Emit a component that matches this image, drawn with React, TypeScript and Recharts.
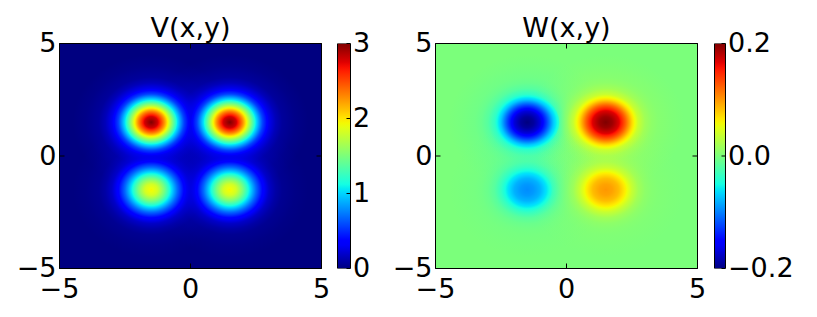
import React from 'react';
import { ScatterChart, Scatter, XAxis, YAxis, CartesianGrid, BarChart, Bar, Label } from 'recharts';

// ---------------- data ----------------
const AXIS_TICKS = [-5, 0, 5];
const AXIS_DOMAIN: [number, number] = [-5, 5];
const BLOB_X = [-1.5, 1.5, -1.5, 1.5];
const BLOB_Y = [1.5, 1.5, -1.5, -1.5];
const V_PEAKS = [3.0, 3.0, 1.95, 1.95];
const W_PEAKS = [-0.2, 0.2, -0.095, 0.1];
const V_BACKGROUND = 0;
const W_BACKGROUND = 0;
// radial fall-off of a blob (fraction of peak) at these distances
const PROFILE_R = [0, 0.25, 0.5, 0.75, 1, 1.25, 1.5, 1.75, 2, 2.5, 3];
const V_PROFILE = [1, 0.93, 0.76, 0.55, 0.35, 0.19, 0.095, 0.05, 0.024, 0.008, 0];
const W_PROFILE = [1, 0.95, 0.84, 0.62, 0.36, 0.18, 0.09, 0.047, 0.026, 0.01, 0];
const V_RANGE: [number, number] = [0, 3];
const W_RANGE: [number, number] = [-0.2, 0.2];
const V_CB_TICKS = [0, 1, 2, 3];
const W_CB_TICKS = [-0.2, 0, 0.2];
const V_TITLE = 'V(x,y)';
const W_TITLE = 'W(x,y)';

// ---------------- style / layout ----------------
const FONT = '"DejaVu Sans", sans-serif';
const FS = 27;
const PLOT_W = 262;
const PLOT_H = 225;
const TICK_LEN = 5;

const JET_RED: [number, number][] = [[0, 0], [0.35, 0], [0.66, 1], [0.89, 1], [1, 0.5]];
const JET_GREEN: [number, number][] = [[0, 0], [0.125, 0], [0.375, 1], [0.64, 1], [0.91, 0], [1, 0]];
const JET_BLUE: [number, number][] = [[0, 0.5], [0.11, 1], [0.34, 1], [0.65, 0], [1, 0]];

function seg(pts: [number, number][], t: number) {
  const x = Math.max(0, Math.min(1, t));
  for (let i = 0; i < pts.length - 1; i++) {
    const [x0, y0] = pts[i];
    const [x1, y1] = pts[i + 1];
    if (x <= x1) return y0 + ((y1 - y0) * (x - x0)) / (x1 - x0 || 1);
  }
  return pts[pts.length - 1][1];
}
function jet(t: number) {
  const c = (v: number) => Math.round(Math.max(0, Math.min(1, v)) * 255);
  return `rgb(${c(seg(JET_RED, t))},${c(seg(JET_GREEN, t))},${c(seg(JET_BLUE, t))})`;
}
function profileAt(profile: number[], r: number) {
  if (r <= PROFILE_R[0]) return profile[0];
  for (let i = 0; i < PROFILE_R.length - 1; i++) {
    if (r <= PROFILE_R[i + 1]) {
      const t = (r - PROFILE_R[i]) / (PROFILE_R[i + 1] - PROFILE_R[i]);
      return profile[i] + (profile[i + 1] - profile[i]) * t;
    }
  }
  return profile[profile.length - 1];
}
function coreRadius(profile: number[], target: number) {
  for (let i = 0; i < PROFILE_R.length - 1; i++) {
    if (profile[i] >= target && profile[i + 1] < target) {
      const t = (profile[i] - target) / (profile[i] - profile[i + 1]);
      return PROFILE_R[i] + t * (PROFILE_R[i + 1] - PROFILE_R[i]);
    }
  }
  return 0;
}
const fmt = (v: number, d: number) => (v < 0 ? '\u2212' : '') + Math.abs(v).toFixed(d);

const PX_X = PLOT_W / (AXIS_DOMAIN[1] - AXIS_DOMAIN[0]);
const PX_Y = PLOT_H / (AXIS_DOMAIN[1] - AXIS_DOMAIN[0]);

const BottomTick = (p: any) => (
  <g>
    <line x1={p.x} x2={p.x} y1={p.y} y2={p.y - TICK_LEN} stroke="#000" strokeWidth={1} />
    <text x={p.x} y={p.y + 29} textAnchor="middle" fontSize={FS} fontFamily={FONT} fill="#000">
      {fmt(p.payload.value, 0)}
    </text>
  </g>
);
const TopTick = (p: any) => (
  <line x1={p.x} x2={p.x} y1={p.y} y2={p.y + TICK_LEN} stroke="#000" strokeWidth={1} />
);
const LeftTick = (p: any) => (
  <g>
    <line x1={p.x} x2={p.x + TICK_LEN} y1={p.y} y2={p.y} stroke="#000" strokeWidth={1} />
    <text x={p.x - 3} y={p.y + 8.5} textAnchor="end" fontSize={FS} fontFamily={FONT} fill="#000">
      {fmt(p.payload.value, 0)}
    </text>
  </g>
);
const RightTick = (p: any) => (
  <line x1={p.x} x2={p.x - TICK_LEN} y1={p.y} y2={p.y} stroke="#000" strokeWidth={1} />
);

type PanelProps = {
  id: string;
  left: number;
  title: string;
  peaks: number[];
  profile: number[];
  background: number;
  range: [number, number];
};

function Panel({ id, left, title, peaks, profile, background, range }: PanelProps) {
  const data = BLOB_X.map((x, i) => ({ x, y: BLOB_Y[i], peak: peaks[i], key: i }));
  const [vmin, vmax] = range;
  const norm = (v: number) => (v - vmin) / (vmax - vmin);
  const thr = 0.1 * (vmax - vmin);
  const Rmax = PROFILE_R[PROFILE_R.length - 1];

  const TailShape = (p: any) => {
    const { cx, cy, payload } = p;
    if (cx == null || cy == null) return <g />;
    const A = payload.peak;
    const color = jet(norm(background + Math.sign(A) * thr));
    const N = 60;
    const stops = [];
    for (let k = 0; k <= N; k++) {
      const r = (Rmax * k) / N;
      const op = Math.min(1, Math.abs(A * profileAt(profile, r)) / thr);
      stops.push(<stop key={k} offset={k / N} stopColor={color} stopOpacity={op} />);
    }
    const gid = `${id}-tail-${payload.key}`;
    return (
      <g>
        <defs>
          <radialGradient id={gid} cx="50%" cy="50%" r="50%">{stops}</radialGradient>
        </defs>
        <ellipse cx={cx} cy={cy} rx={Rmax * PX_X} ry={Rmax * PX_Y} fill={`url(#${gid})`} />
      </g>
    );
  };

  const CoreShape = (p: any) => {
    const { cx, cy, payload } = p;
    if (cx == null || cy == null) return <g />;
    const A = payload.peak;
    const rc = coreRadius(profile, thr / Math.abs(A));
    if (rc <= 0) return <g />;
    const N = 40;
    const stops = [];
    for (let k = 0; k <= N; k++) {
      const r = (rc * k) / N;
      const v = background + A * profileAt(profile, r);
      stops.push(<stop key={k} offset={k / N} stopColor={jet(norm(v))} stopOpacity={1} />);
    }
    const gid = `${id}-core-${payload.key}`;
    return (
      <g>
        <defs>
          <radialGradient id={gid} cx="50%" cy="50%" r="50%">{stops}</radialGradient>
        </defs>
        <ellipse cx={cx} cy={cy} rx={rc * PX_X} ry={rc * PX_Y} fill={`url(#${gid})`} />
      </g>
    );
  };

  const titleContent = (props: any) => {
    const vb = props.viewBox || { x: 59.5, y: 38.5, width: PLOT_W, height: 5 };
    return (
      <text x={vb.x + vb.width / 2} y={vb.y + vb.height - 6.8} textAnchor="middle" fontSize={FS} fontFamily={FONT} fill="#000">
        {title}
      </text>
    );
  };

  return (
    <div style={{ position: 'absolute', left, top: 0 }}>
      <ScatterChart width={332} height={317} margin={{ top: 38.5, right: 5.5, bottom: 8.5, left: 9.5 }}>
        <CartesianGrid horizontal={false} vertical={false} fill={jet(norm(background))} fillOpacity={1} stroke="none" />
        <XAxis type="number" dataKey="x" domain={AXIS_DOMAIN} ticks={AXIS_TICKS} allowDataOverflow interval={0}
          height={40} tickSize={0} tickMargin={0} tickLine={false} axisLine={{ stroke: '#000', strokeWidth: 1 }} tick={BottomTick} />
        <XAxis xAxisId="t" orientation="top" type="number" dataKey="x" domain={AXIS_DOMAIN} ticks={AXIS_TICKS} allowDataOverflow interval={0}
          height={5} tickSize={0} tickMargin={0} tickLine={false} axisLine={{ stroke: '#000', strokeWidth: 1 }} tick={TopTick}>
          <Label content={titleContent} />
        </XAxis>
        <YAxis type="number" dataKey="y" domain={AXIS_DOMAIN} ticks={AXIS_TICKS} allowDataOverflow interval={0}
          width={50} tickSize={0} tickMargin={0} tickLine={false} axisLine={{ stroke: '#000', strokeWidth: 1 }} tick={LeftTick} />
        <YAxis yAxisId="r" orientation="right" type="number" dataKey="y" domain={AXIS_DOMAIN} ticks={AXIS_TICKS} allowDataOverflow interval={0}
          width={5} tickSize={0} tickMargin={0} tickLine={false} axisLine={{ stroke: '#000', strokeWidth: 1 }} tick={RightTick} />
        <Scatter data={data} shape={TailShape} isAnimationActive={false} />
        <Scatter data={data} shape={CoreShape} isAnimationActive={false} />
        <Scatter xAxisId="t" yAxisId="r" data={data} shape={() => <g />} isAnimationActive={false} />
      </ScatterChart>
    </div>
  );
}

type CbProps = { id: string; left: number; barW: number; axisW: number; range: [number, number]; ticks: number[]; decimals: number };

function Colorbar({ id, left, barW, axisW, range, ticks, decimals }: CbProps) {
  const data = [{ k: 'cb', span: range }];
  const N = 48;
  const stops = [];
  for (let k = 0; k <= N; k++) stops.push(<stop key={k} offset={k / N} stopColor={jet(k / N)} />);
  const CbTick = (p: any) => (
    <g>
      <line x1={p.x} x2={p.x - 4} y1={p.y} y2={p.y} stroke="#000" strokeWidth={1} />
      <text x={p.x + 2.5} y={p.y + 8.5} textAnchor="start" fontSize={FS} fontFamily={FONT} fill="#000">
        {fmt(p.payload.value, decimals)}
      </text>
    </g>
  );
  const width = 7.5 + barW + axisW + 0.5;
  return (
    <div style={{ position: 'absolute', left, top: 0 }}>
      <BarChart width={width} height={317} data={data} margin={{ top: 43.5, right: 0.5, bottom: 48.5, left: 7.5 }} barCategoryGap={0} barGap={0}>
        <defs>
          <linearGradient id={id} x1="0" y1="1" x2="0" y2="0">{stops}</linearGradient>
        </defs>
        <XAxis dataKey="k" hide />
        <YAxis orientation="right" type="number" domain={range} ticks={ticks} allowDataOverflow interval={0}
          width={axisW} tickSize={0} tickMargin={0} tickLine={false} axisLine={false} tick={CbTick} />
        <Bar dataKey="span" fill={`url(#${id})`} stroke="#000" strokeWidth={1} isAnimationActive={false} />
      </BarChart>
    </div>
  );
}

export default function App() {
  return (
    <div style={{ position: 'absolute', left: 0, top: 0, width: 817, height: 317, background: '#fff', overflow: 'hidden' }}>
      <Panel id="v" left={0} title={V_TITLE} peaks={V_PEAKS} profile={V_PROFILE} background={V_BACKGROUND} range={V_RANGE} />
      <Colorbar id="cbv" left={330} barW={13} axisW={60} range={V_RANGE} ticks={V_CB_TICKS} decimals={0} />
      <Panel id="w" left={376} title={W_TITLE} peaks={W_PEAKS} profile={W_PROFILE} background={W_BACKGROUND} range={W_RANGE} />
      <Colorbar id="cbw" left={707} barW={11} axisW={90} range={W_RANGE} ticks={W_CB_TICKS} decimals={1} />
    </div>
  );
}
